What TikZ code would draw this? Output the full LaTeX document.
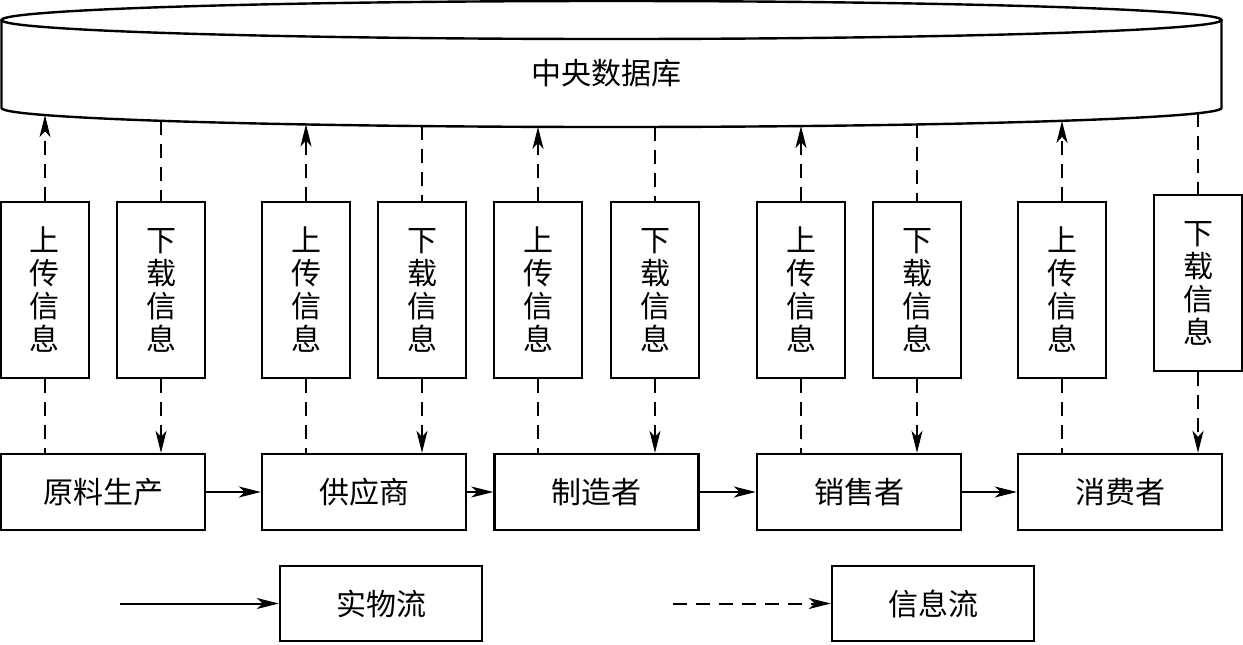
\documentclass[tikz,border=0pt]{standalone}
\usepackage{fontspec}
\setmainfont{Noto Sans CJK SC}
\usetikzlibrary{arrows.meta, positioning, calc}
\tikzset{
    supply/.style={
        x=0.5pt, y=-0.5pt,
        font=\fontsize{15}{16.5}\selectfont,
        >={Stealth[length=11pt, width=5.5pt, inset=3pt]},
        block/.style={draw, rectangle, line width=1.2pt, minimum width=102pt, minimum height=38pt, inner sep=0pt},
        tall_block/.style={draw, rectangle, line width=1.2pt, minimum width=44pt, minimum height=88pt, inner sep=0pt, align=center},
        legend_block/.style={block, minimum width=101pt, minimum height=37.5pt},
        matter/.style={line width=1pt, ->},
        info/.style={line width=1pt, dash pattern=on 7pt off 4.5pt},
        info_arrow/.style={info, ->}
    }
}

\begin{document}
\begin{tikzpicture}[supply]
        \useasboundingbox (0,0) rectangle (1243,644);

        % Central database
        \draw[line width=1.2pt] (611.5,20) ellipse [x radius=305pt, y radius=9.5pt];
        \draw[line width=1.2pt] (1.5,20) -- (1.5,108) arc [start angle=180, end angle=360, x radius=305pt, y radius=9.5pt] -- (1221.5,20);
        \node (db) at (606,73) {中央数据库};

        % Chain members
        \foreach \n/\x/\l in {raw/103/原料生产, sup/364/供应商, mfr/596.5/制造者, sel/859/销售者, con/1120/消费者} {
            \node[block] (\n) at (\x,492) {\l};
        }

        % Upload / download boxes
        \foreach \i/\e/\u/\d/\h in {1/raw/45/161/290, 2/sup/306/422/290, 3/mfr/538/655/290, 4/sel/801/917/290, 5/con/1062/1198/283} {
            \node[tall_block] (up\i) at (\u,290) {上\\传\\信\\息};
            \node[tall_block] (down\i) at (\d,\h) {下\\载\\信\\息};
            \coordinate (dbu\i) at (\u, {108+19*sqrt(1-((\u-611.5)/611.5)^2)});
            \coordinate (dbd\i) at (\d, {108+19*sqrt(1-((\d-611.5)/611.5)^2)});
            \draw[info_arrow] (up\i.north) -- (dbu\i);
            \draw[info] (up\i.south) -- (up\i.south |- \e.north);
            \draw[info] (dbd\i) -- (down\i.north);
            \draw[info_arrow] (down\i.south) -- (down\i.south |- \e.north);
        }

        % Material flow
        \foreach \a/\b in {raw/sup, sup/mfr, mfr/sel, sel/con} {
            \draw[matter] (\a) -- (\b);
        }

        % Legend
        \node[legend_block] (phys) at (381,603.5) {实物流};
        \node[legend_block] (infl) at (933,603.5) {信息流};
        \coordinate (phys_start) at (120,603.5);
        \coordinate (infl_start) at (673,603.5);
        \draw[matter] (phys_start) -- (phys);
        \draw[info_arrow] (infl_start) -- (infl);

    \end{tikzpicture}
\end{document}
